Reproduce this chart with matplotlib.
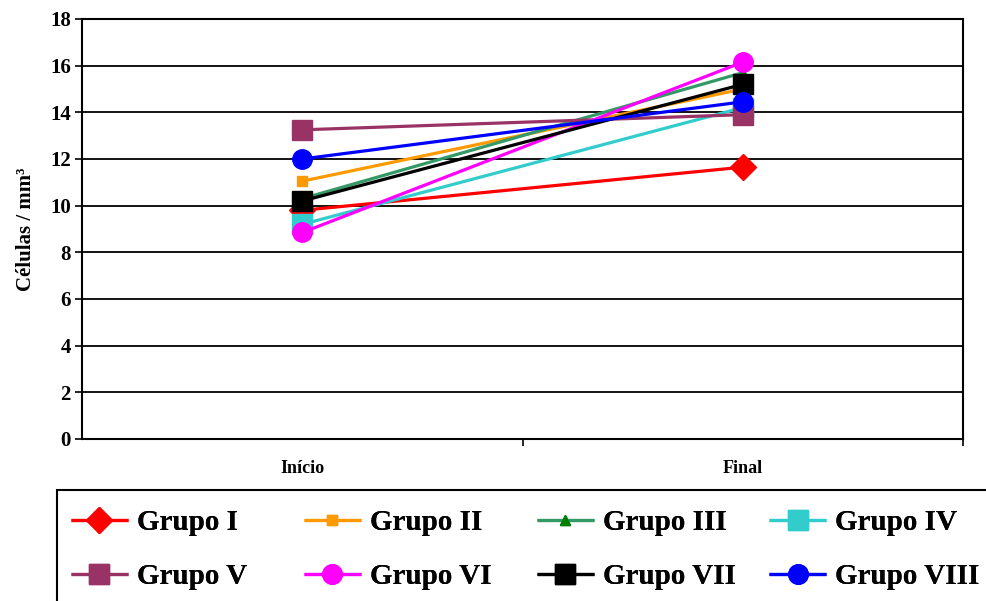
import numpy as np
import matplotlib
matplotlib.use("Agg")
from matplotlib import pyplot as plt
from matplotlib.patches import Rectangle

plt.rcParams['font.family'] = ['Liberation Serif', 'DejaVu Serif']
plt.rcParams['font.weight'] = 'bold'

categories = ["Início", "Final"]
grupos = ["Grupo I", "Grupo II", "Grupo III", "Grupo IV",
          "Grupo V", "Grupo VI", "Grupo VII", "Grupo VIII"]

# valores (inicio, final)
grupo_1 = [9.8, 11.65]
grupo_2 = [11.05, 15.0]
grupo_3 = [10.3, 15.7]
grupo_4 = [9.2, 14.2]
grupo_5 = [13.25, 13.9]
grupo_6 = [8.85, 16.15]
grupo_7 = [10.2, 15.2]
grupo_8 = [12.0, 14.45]

valores = [grupo_1, grupo_2, grupo_3, grupo_4, grupo_5, grupo_6, grupo_7, grupo_8]

cores = ["#FF0000", "#FF9900", "#339966", "#33CCCC",
         "#993366", "#FF00FF", "#000000", "#0000FF"]
cores_marc = ["#FF0000", "#FF9900", "#008000", "#33CCCC",
              "#993366", "#FF00FF", "#000000", "#0000FF"]
marcadores = ["D", "s", "^", "s", "s", "o", "s", "o"]
tamanhos = [13, 7, 7, 15, 15, 14, 15, 14]

fig = plt.figure(figsize=(9.86, 6.01), dpi=100)
ax = fig.add_axes([0.0832, 0.2696, 0.8935, 0.6988])

x = np.arange(len(categories))
linhas = []
for i in range(len(grupos)):
    l, = ax.plot(x, valores[i], color=cores[i], lw=2.3, marker=marcadores[i],
                 ms=tamanhos[i], mfc=cores_marc[i], mec=cores_marc[i],
                 label=grupos[i], solid_capstyle='butt')
    linhas.append(l)

ax.set_xlim(-0.5, 1.5)
ax.set_ylim(0, 18)
ax.set_yticks(np.arange(0, 19, 2))
ax.set_xticks(x)
ax.set_xticklabels(categories, fontsize=13, fontweight='bold')
ax.set_xticks([0.5, 1.5], minor=True)
ax.tick_params(axis='x', which='major', length=0, pad=15)
ax.tick_params(axis='x', which='minor', length=5, width=1.2, direction='out')
ax.tick_params(axis='y', length=5, width=1.2, labelsize=15, pad=3)
for lab in ax.get_yticklabels():
    lab.set_fontweight('bold')
ax.yaxis.grid(True, color='black', lw=1.3)
ax.set_axisbelow(True)
for s in ax.spines.values():
    s.set_linewidth(1.5)
ax.set_ylabel("Células / mm³", fontsize=15, fontweight='bold', labelpad=10)

# caixa da legenda
fig.add_artist(Rectangle((0.0578, -0.02), 1.0, 0.2047, transform=fig.transFigure,
                         fill=False, ec='black', lw=1.5))

# uma coluna de legenda por vez, em posicoes fixas como no original
colunas_x = [0.072, 0.3083, 0.5446, 0.78]
for c in range(4):
    idx = [c, c + 4]
    leg = fig.legend([linhas[k] for k in idx], [grupos[k] for k in idx],
                     loc='upper left', bbox_to_anchor=(colunas_x[c], 0.1531),
                     frameon=False,
                     prop={'family': 'Liberation Serif', 'weight': 'bold', 'size': 21},
                     handlelength=1.95, handletextpad=0.31,
                     labelspacing=0.94, borderaxespad=0, borderpad=0)
    fig.add_artist(leg)

fig.savefig("out.png", dpi=100)
